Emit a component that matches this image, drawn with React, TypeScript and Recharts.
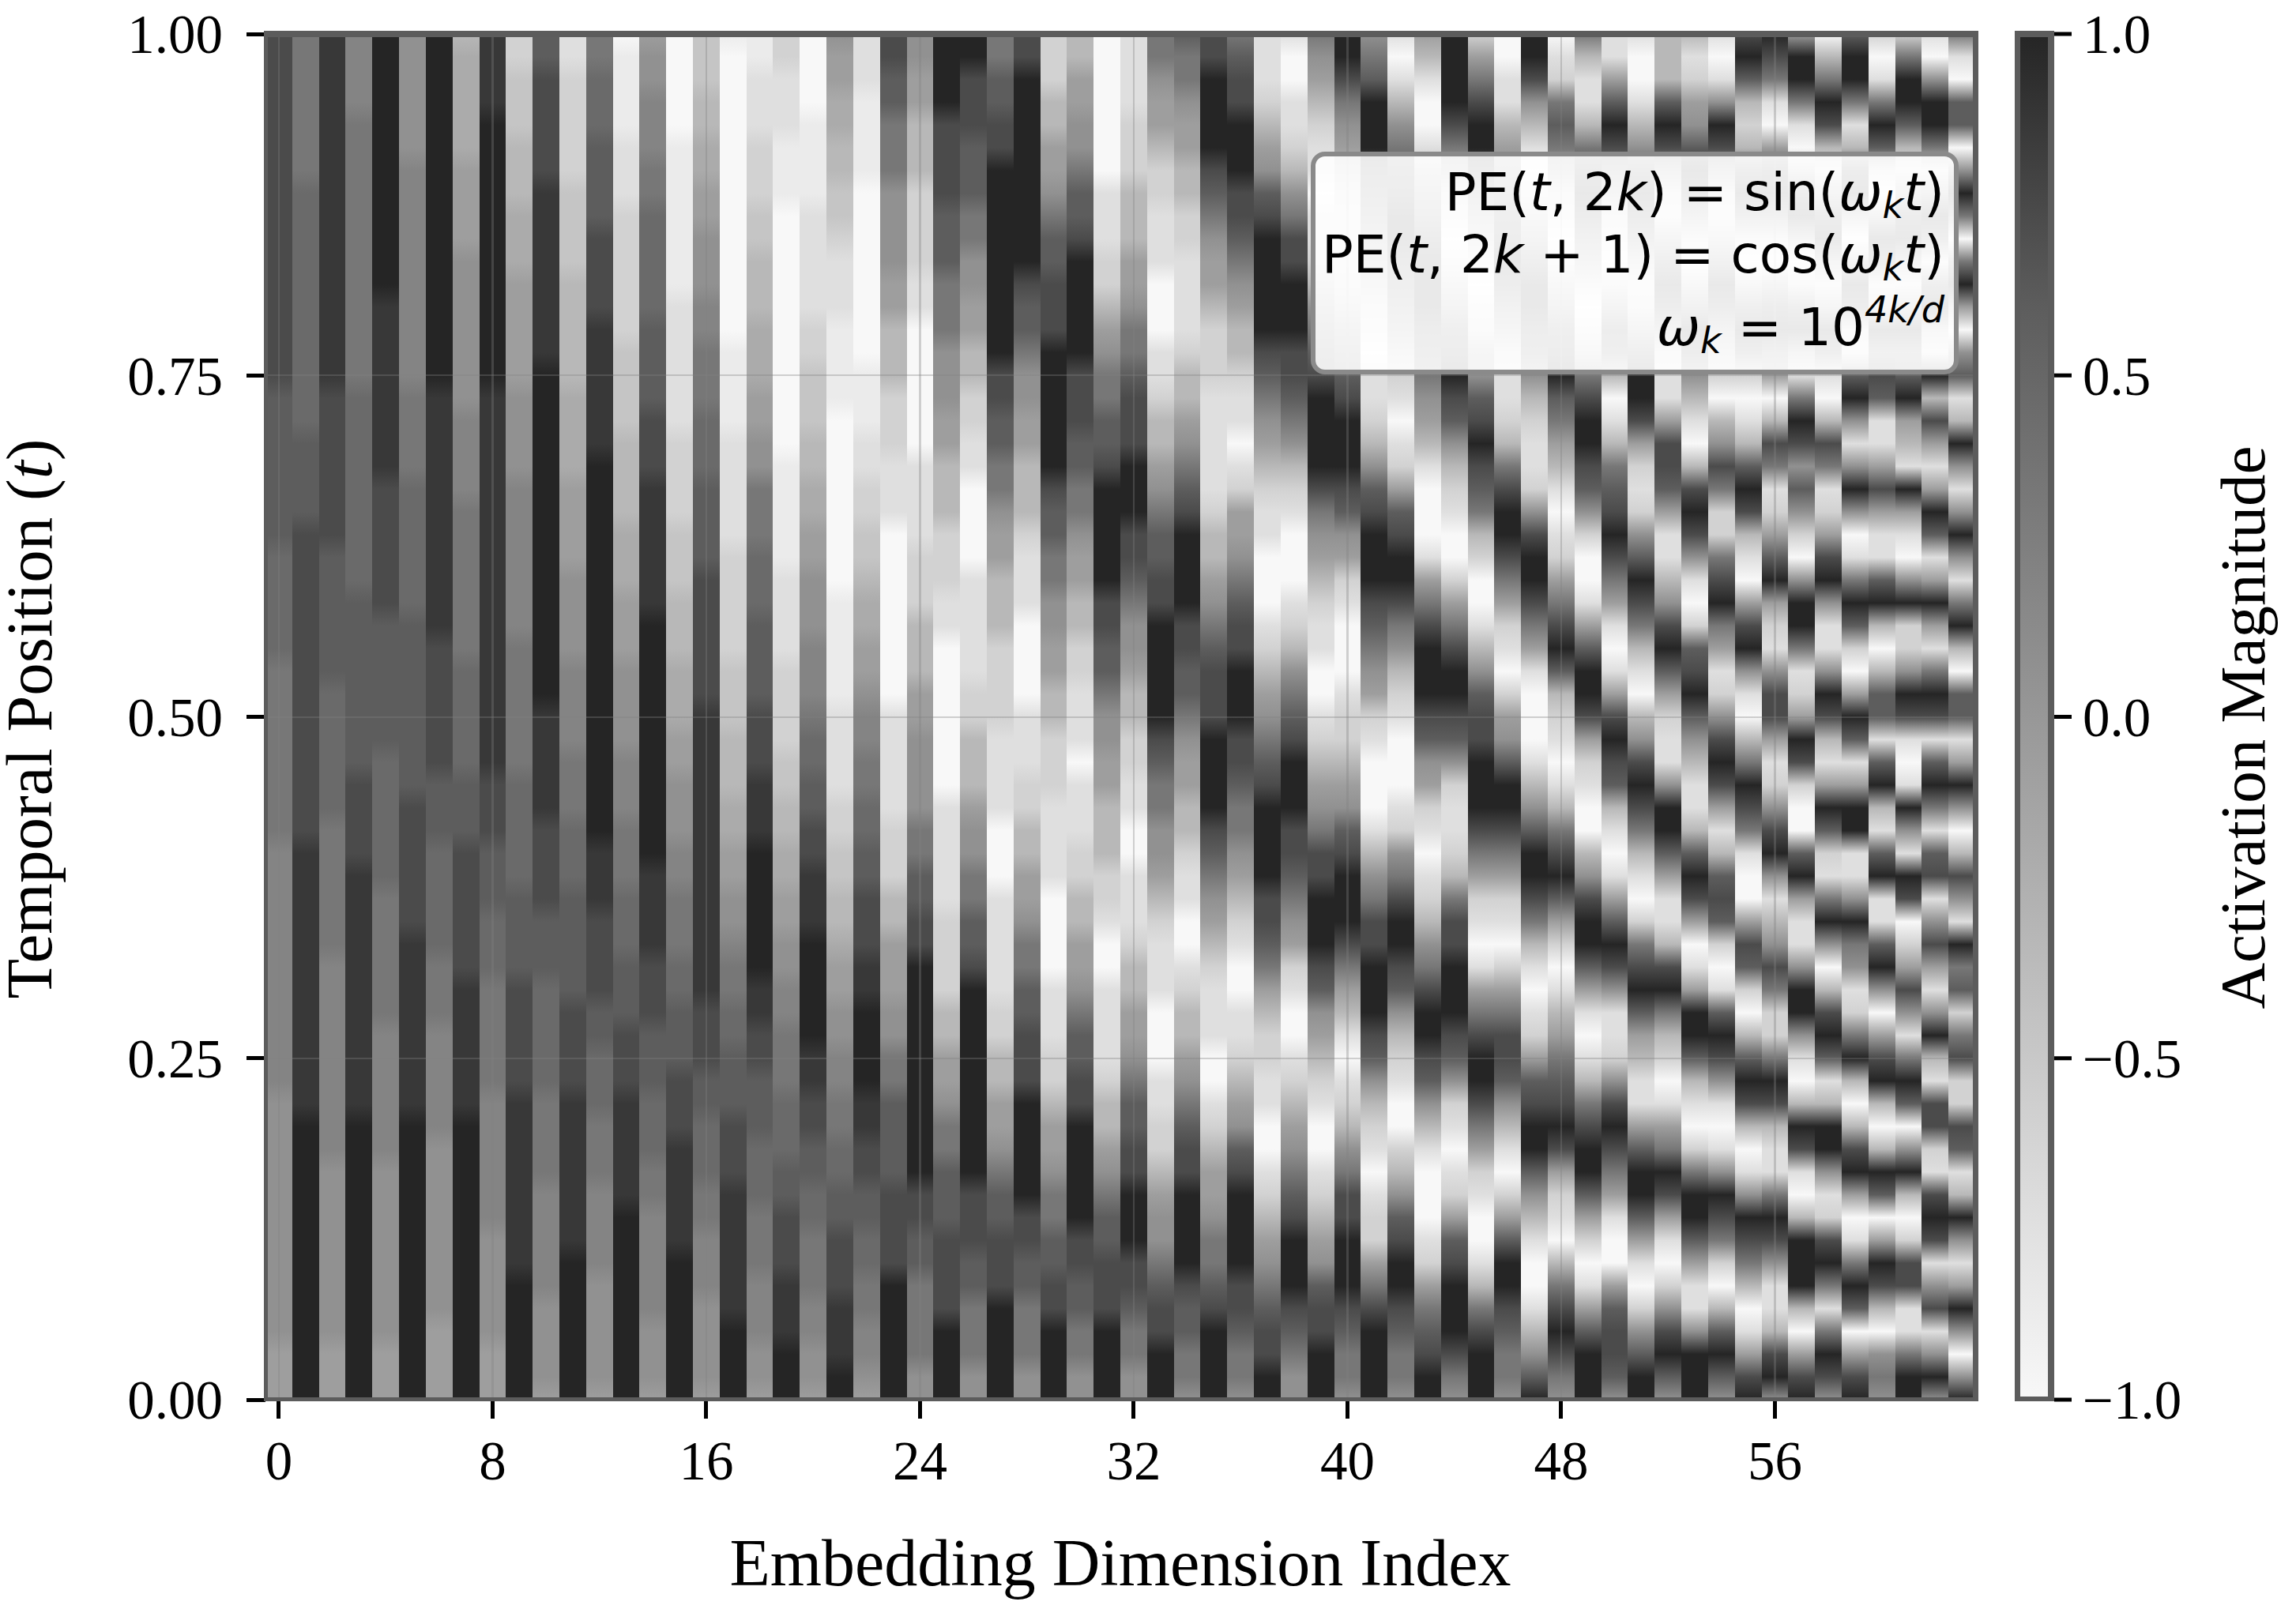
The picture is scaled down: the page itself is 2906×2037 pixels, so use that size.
import { Bar, BarChart, Cell, ReferenceLine, XAxis, YAxis } from 'recharts'

// activation level per embedding dimension, read off the image from t=1 (top) to t=0 (bottom)
// 61 samples each, spaced in tens to keep count.
// slow columns on the left: hex, 0 = -1.0 (lightest) ... f = +1.0 (darkest)
const dim00 = 'dddddddddd ddddddcccc cccbbbbbaa aaaaaa9999 9999999888 8888888877 7'
const dim01 = 'aaaaaaabbb bbbbbbbbcc ccdddddddd ddddddeeee eeeeeeeeff ffffffffff f'
const dim02 = 'eeeeeeeeee eeeeeedddd dddccccccb bbbbbaaaaa a999999999 8888888877 7'
const dim03 = '9999aaaaaa aaaaaabbbb bbbbbccccc cccddddeee eeeeeeeeff ffffffffff f'
const dim04 = 'ffffffffff ffeeeeeeee ddddddcccc ccbbbbbbaa aaaa999999 8888888877 7'
const dim05 = '8888889999 999999aaaa bbbbbbcccc ccccdddddd eeeeeeeeff ffffffffff f'
const dim06 = 'ffffffffff ffffffeeee eeeeeeeddd dddcccbbbb baaa999998 8888888777 7'
const dim07 = '5666667777 8888888999 9aaaaaaabb bbbcccdddd ddeeeeeeff ffffffffff f'
const dim08 = 'eeeeffffff ffffffeeee eeeeeeeeee eeedddcccb bbaaaaa999 9998888877 7'
const dim09 = '3344455566 6777778888 9999999aaa aaabbbbbcc ccdddddeee eeeeefffff f'
const dim10 = 'ccdddddeee eeeeefffff ffffffffff eeeeeddddc ccbbbbbaaa a999998888 7'
const dim11 = '2233333444 4555556666 7777888899 99aaabbbcc cccddddeee eeeeffffff f'
const dim12 = 'aabbbccccd dddeeeeeef ffffffffff ffffffeeed dddccbbbaa a999988888 7'
const dim13 = '0111122233 3333444455 5566677788 88999aaabb bcccdddeee eeffffffff f'
const dim14 = '788999aabb bbbccccddd eeeeeeffff fffffffeee edddcccbbb aa99999888 7'
const dim15 = '0000011111 1122222233 3344455566 677888 99aa abbcccddde eeeeffffff f'
const dim16 = '4445566778 8899aaabbb ccccdddddd eeeeeeeeee eeedddccbb baa9998888 7'
const dim17 = '1000000000 0000111122 2223333344 4555667788 9aabbcccdd deeeeeefff f'
const dim18 = '1122233344 5556667788 aaabbbcccc dddeeeffff ffeeddcccb bbaaa99988 7'
const dim19 = '3322211100 0000000001 1111222233 3344556677 8899aaabbb ccdddeeeff f'
const dim20 = '0000111122 2223344455 6677888999 abbccddeee fffffeeddc cbbaaa9988 7'
const dim21 = '8776655443 2221111000 0000011111 2222334455 6778899aab bccdddeeef f'
const dim22 = '2221111000 0000011122 3344566778 99aabbccdd deeffffeed dccbbaa998 7'
// faster columns: decimal, 0 = -1.0 ... 9 = +1.0
const dim23 = '8877666555 5443332221 1100000000 1111122233 4445566777 7888899999 9'
const dim24 = '5544333222 2110000001 1112223334 4555566778 8999999999 9887766665 5'
const dim25 = '9999888877 7666555443 3322211000 0000111112 2223344566 7778888999 9'
const dim26 = '9988877766 5544332211 0000111112 2333455667 7899999999 9888776665 5'
const dim27 = '6677889999 9999988776 6544333222 2111100011 1112233445 6778889999 9'
const dim28 = '8899999999 9877655443 3321110000 1112233445 6677888999 9988776665 5'
const dim29 = '2223344567 7888999999 8776655443 3222111100 0011122344 5667788999 9'
const dim30 = '3344556778 9999988877 6654433221 1101112233 4456778899 9998877665 5'
const dim31 = '0000000111 2234566778 9999988776 5544333221 0011112334 5677888999 9'
const dim32 = '1111222333 4456678889 9988765543 3221100111 2334456778 8999887665 5'
const dim33 = '6654432211 1000112334 5677889999 9876655432 1110001122 3455678899 9'
const dim34 = '7665443322 1111233456 7899998877 6544332110 0123345678 8999987766 5'
const dim35 = '8899998765 4432221111 1233456788 8999987654 3211100123 4456678999 9'
const dim36 = '6788999887 6543321101 2445678899 9887665432 1001123457 8999988766 5'
const dim37 = '1112345789 9999876543 2110001234 5678999988 7643221100 1234567889 9'
const dim38 = '1001123568 8999887653 2100012356 7899988765 4210012345 6789998765 5'
const dim39 = '6543211011 2356789999 8654321100 1234568899 9875432100 1234578899 9'
const dim40 = '9986543211 1235678999 8754210001 2234578999 8643101235 6889998766 5'
const dim41 = '5679998765 4321011235 7899987654 2100013568 8999875321 0122468999 9'
const dim42 = '1013567899 8765321012 4789986532 1000125689 9875321002 3578998766 5'
const dim43 = '4310013568 9998765431 0001468999 8754210123 5689987531 0001246789 9'
const dim44 = '9999864210 1357898753 2100246899 8752112368 8999875210 1247899986 5'
const dim45 = '2468998643 1012457898 7632001357 8899986421 0146899864 2100136899 9'
const dim46 = '0011345678 9864211236 8998642102 4579986421 0246887531 0247998766 5'
const dim47 = '9985310135 7998753211 2589986410 0013579986 3101247899 7531001357 9'
const dim48 = '0126764210 1357897643 1012468973 2101368974 2013467898 4210368986 5'
const dim49 = '6311368986 4201368998 7520014799 8421003589 9741013689 9742014799 9'
const dim50 = '1147986421 0258730136 7898641014 8987310147 9851125898 6410047887 5'
const dim51 = '1001357986 3124799842 1257986310 3589863102 6897431147 9974102579 9'
const dim52 = '3337985214 7985211488 7411358974 2115997411 3896320146 9841025897 5'
const dim53 = '3124579852 0369853103 8985102789 7531137984 0149973102 6997411599 9'
const dim54 = '1015985213 6985320358 6226896412 5898413787 2017985101 5986203797 5'
const dim55 = '8973237962 0379720137 9831048951 0369861004 8720379830 1598630148 9'
const dim56 = '9861048962 0489640386 1247942158 8412589513 5862269831 1698511389 5'
const dim57 = '4996103894 0279416985 7520599612 4982007941 1599510398 1039993048 9'
const dim58 = '0369831489 4149710386 1248951159 8314972169 5038971399 5128961698 5'
const dim59 = '7996138940 4982179515 9501697204 9714991159 6512693038 9401697048 9'
const dim60 = '2016972049 7139687114 8411793037 7179317911 7950489303 9704983056 5'
const dim61 = '2699731489 4159679431 9410592259 8101951980 2485169705 9302881169 9'
const dim62 = '1059961597 1793193841 4971494169 8179617815 8415931882 1898158159 5'
const dim63 = '6107705960 6940571395 1595169307 7149503851 9672682287 1395149505 9'

const readHex = (s: string) => s.replace(/ /g, '').split('').map(c => parseInt(c, 16))
const readDec = (s: string) => s.replace(/ /g, '').split('').map(c => Math.round(Number(c) * 15 / 9))

const DIMS = [
  ...[dim00, dim01, dim02, dim03, dim04, dim05, dim06, dim07, dim08, dim09, dim10, dim11, dim12, dim13, dim14, dim15,
    dim16, dim17, dim18, dim19, dim20, dim21, dim22].map(readHex),
  ...[dim23, dim24, dim25, dim26, dim27, dim28, dim29, dim30, dim31,
    dim32, dim33, dim34, dim35, dim36, dim37, dim38, dim39, dim40, dim41, dim42, dim43, dim44, dim45, dim46, dim47,
    dim48, dim49, dim50, dim51, dim52, dim53, dim54, dim55, dim56, dim57, dim58, dim59, dim60, dim61, dim62, dim63].map(readDec),
]

const GRAYS = ['#f8f8f8', '#ebebeb', '#dfdfdf', '#d2d2d2', '#c5c5c5', '#b8b8b8', '#ababab', '#9e9e9e',
  '#919191', '#848484', '#777777', '#6a6a6a', '#5d5d5d', '#4b4b4b', '#383838', '#252525']
const X_TICKS = [0, 8, 16, 24, 32, 40, 48, 56]
const Y_TICKS = [0, 0.25, 0.5, 0.75, 1]
const CBAR_TICKS = [-1, -0.5, 0, 0.5, 1]

const BANDS = 60
const SERIF = '"Liberation Serif", serif'
const FRAME = '#5c5c5c'

// stacked from the bottom up, so band 59 (t just above 0) comes first
const bandOrder = Array.from({ length: BANDS }, (_, i) => BANDS - 1 - i)
const tableRows = DIMS.map((_, dim) => {
  const row: Record<string, number> = { dim }
  bandOrder.forEach(b => { row[`s${b}`] = 1 / BANDS })
  return row
})
const cbarRows = [{ name: 'cbar', range: [-1, 1] }]

const tickLine = { stroke: '#000', strokeWidth: 5 }
const tickFont = { fontFamily: SERIF, fontSize: 69, fill: '#000' }
const titleFont = { fontFamily: SERIF, fontSize: 84, fill: '#000' }

function Frame({ left, top, width, height, sides }: { left: number; top: number; width: number; height: number; sides: number[] }) {
  return (
    <div style={{
      position: 'absolute', left, top, width, height, boxSizing: 'border-box',
      borderStyle: 'solid', borderColor: FRAME, borderWidth: sides.map(s => `${s}px`).join(' '),
    }} />
  )
}

function Sub({ children }: { children: string }) {
  return <i style={{ fontSize: '0.7em', verticalAlign: '-0.22em', lineHeight: 0 }}>{children}</i>
}

function FormulaLine({ top, children }: { top: number; children: React.ReactNode }) {
  return <div style={{ position: 'absolute', right: 12, top, whiteSpace: 'nowrap', lineHeight: 1 }}>{children}</div>
}

export default function App() {
  return (
    <div style={{ position: 'fixed', left: 0, top: 0, width: 2906, height: 2037, background: '#fff', overflow: 'hidden' }}>
      <div style={{ position: 'absolute', left: 0, top: 0 }}>
        <BarChart
          width={2906} height={2037} data={tableRows}
          margin={{ top: 43, right: 406, bottom: 0, left: 0 }}
          barCategoryGap={0} barGap={0}
          style={{ shapeRendering: 'crispEdges' }}
        >
          <defs>
            {GRAYS.flatMap((from, a) => GRAYS.map((to, b) => (
              <linearGradient key={`${a}_${b}`} id={`g${a}_${b}`} x1="0" y1="0" x2="0" y2="1">
                <stop offset="0" stopColor={from} />
                <stop offset="1" stopColor={to} />
              </linearGradient>
            )))}
          </defs>
          <XAxis
            dataKey="dim" type="category" ticks={X_TICKS} interval={0} height={265}
            axisLine={false} tickLine={tickLine} tickSize={24} tickMargin={28} tick={tickFont}
          />
          <YAxis
            type="number" domain={[0, 1]} ticks={Y_TICKS} width={336}
            axisLine={false} tickLine={tickLine} tickSize={24} tickMargin={30} tick={tickFont}
            tickFormatter={(v: number) => v.toFixed(2)}
          />
          {bandOrder.map(b => (
            <Bar key={b} dataKey={`s${b}`} stackId="t" isAnimationActive={false} stroke="none">
              {DIMS.map((col, i) => <Cell key={i} fill={`url(#g${col[b]}_${col[b + 1]})`} />)}
            </Bar>
          ))}
          {Y_TICKS.slice(1, 4).map(y => (
            <ReferenceLine key={y} y={y} stroke="#808080" strokeOpacity={0.35} strokeWidth={2} />
          ))}
          {X_TICKS.map(x => (
            <ReferenceLine key={x} x={x} stroke="#808080" strokeOpacity={0.35} strokeWidth={2.5} />
          ))}
          <text x={1418} y={2007} textAnchor="middle" {...titleFont}>Embedding Dimension Index</text>
          <text x={0} y={0} textAnchor="middle" transform="translate(65 910) rotate(-90)" {...titleFont} fontSize={83}>
            Temporal Position (<tspan fontStyle="italic">t</tspan>)
          </text>
        </BarChart>
      </div>
      <Frame left={334} top={39} width={2170} height={1735} sides={[8, 7, 5, 5]} />

      <div style={{
        position: 'absolute', left: 1659, top: 192, width: 820, height: 282, boxSizing: 'border-box',
        background: 'rgba(255,255,255,0.9)', border: '6px solid #8a8a8a', borderRadius: 18,
        fontFamily: '"DejaVu Sans", sans-serif', fontSize: 66, color: '#000',
      }}>
        <FormulaLine top={13}>PE(<i>t</i>, 2<i>k</i>) = sin(<i>ω</i><Sub>k</Sub><i>t</i>)</FormulaLine>
        <FormulaLine top={92}>PE(<i>t</i>, 2<i>k</i> + 1) = cos(<i>ω</i><Sub>k</Sub><i>t</i>)</FormulaLine>
        <FormulaLine top={184}>
          <i>ω</i><Sub>k</Sub> = 10<i style={{ fontSize: '0.7em', verticalAlign: '0.62em', lineHeight: 0 }}>4k/d</i>
        </FormulaLine>
      </div>

      <div style={{ position: 'absolute', left: 2540, top: 0 }}>
        <BarChart
          width={366} height={2037} data={cbarRows}
          margin={{ top: 43, right: 0, bottom: 265, left: 10 }}
          barCategoryGap={0}
        >
          <defs>
            <linearGradient id="cbar" x1="0" y1="0" x2="0" y2="1">
              {GRAYS.slice().reverse().map((c, i) => <stop key={c} offset={i / (GRAYS.length - 1)} stopColor={c} />)}
            </linearGradient>
          </defs>
          <XAxis dataKey="name" hide />
          <YAxis
            orientation="right" type="number" domain={[-1, 1]} ticks={CBAR_TICKS} width={306}
            axisLine={false} tickLine={tickLine} tickSize={22} tickMargin={14} tick={tickFont}
            tickFormatter={(v: number) => v.toFixed(1).replace('-', '\u2212')}
          />
          <Bar dataKey="range" fill="url(#cbar)" isAnimationActive={false} />
          <text x={0} y={0} textAnchor="middle" transform="translate(326 921) rotate(-90)" {...titleFont} fontSize={81}>
            Activation Magnitude
          </text>
        </BarChart>
      </div>
      <Frame left={2550} top={39} width={50} height={1735} sides={[8, 8, 6, 7]} />
    </div>
  )
}
